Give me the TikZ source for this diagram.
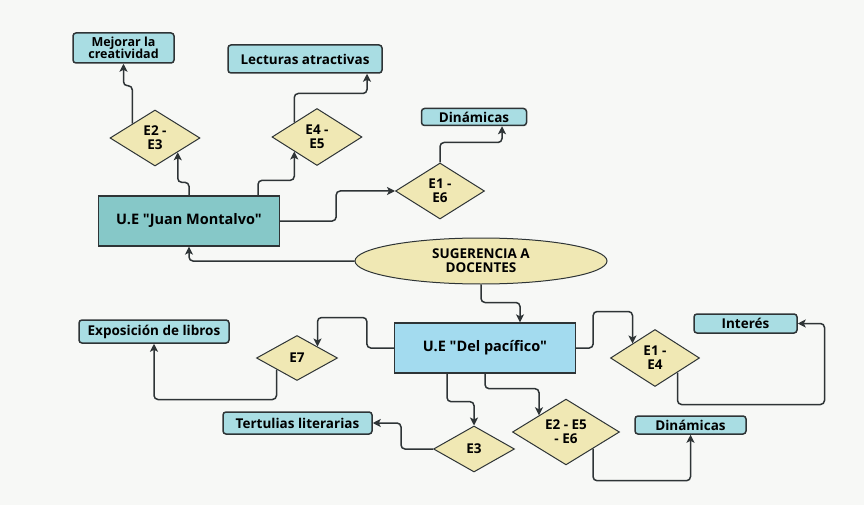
\documentclass[tikz,border=0pt]{standalone}
\usepackage{fontspec}
\setmainfont{Open Sans}[Ligatures=TeXOff]
\usetikzlibrary{shapes.geometric,arrows.meta}
\definecolor{hoja}{HTML}{A9DDE3}
\definecolor{juan}{HTML}{86C8C8}
\definecolor{pacif}{HTML}{A3DBEF}
\definecolor{crema}{HTML}{F0E8B4}
\definecolor{fondo}{HTML}{F7F8F6}
\definecolor{linea}{HTML}{2E3436}

\begin{document}
\begin{tikzpicture}[x=1pt,y=-1pt,font=\bfseries\fontsize{13.5}{14}\selectfont,
  hoja/.style={draw=linea,fill=hoja,rounded corners=3pt,line width=1.5pt,inner sep=0pt,align=center},
  escuela/.style={draw=linea,line width=1.3pt,inner sep=0pt,minimum width=181pt,minimum height=50pt,font=\bfseries\fontsize{14.5}{15}\selectfont},
  rombo/.style={diamond,draw=linea,fill=crema,line width=1pt,inner sep=0pt,align=center},
  flecha/.style={draw=linea,line width=1.5pt,rounded corners=4pt,-{Stealth[length=8pt,width=8pt,inset=2pt]}}]
\fill[fondo] (0,0) rectangle (864,505);
\useasboundingbox (0,0) rectangle (864,505);

\node[ellipse,draw=linea,fill=crema,line width=1pt,minimum width=252pt,minimum height=46pt,align=center,inner sep=0pt] (sug) at (481,261) {SUGERENCIA A\\DOCENTES};
\node[escuela,fill=juan] (jm) at (189,221) {U.E "Juan Montalvo"};
\node[escuela,fill=pacif] (dp) at (485,348) {U.E "Del pacífico"};

\node[rombo,minimum width=90pt,minimum height=56pt] (e23) at (155,138) {E2 -\\E3};
\node[rombo,minimum width=90pt,minimum height=57pt] (e45) at (317,137) {E4 -\\E5};
\node[rombo,minimum width=89pt,minimum height=56pt] (e16) at (440,191) {E1 -\\E6};
\node[rombo,minimum width=89pt,minimum height=57pt] (e14) at (655,358) {E1 -\\E4};
\node[rombo,minimum width=81pt,minimum height=46pt] (e3) at (474,449) {E3};
\node[rombo,minimum width=107pt,minimum height=56pt] (e256) at (566,432) {E2 - E5\\- E6};
\node[rombo,minimum width=81pt,minimum height=45pt] (e7) at (297,358) {E7};

\node[hoja,minimum width=101pt,minimum height=30pt,font=\bfseries\fontsize{12.5}{12.5}\selectfont] (mej) at (123.5,48) {Mejorar la\\creatividad};
\node[hoja,minimum width=154pt,minimum height=28pt] (lec) at (305,59) {Lecturas atractivas};
\node[hoja,minimum width=105pt,minimum height=17pt] (din1) at (474,117) {Dinámicas};
\node[hoja,minimum width=103pt,minimum height=19pt] (int) at (745.5,323.5) {Interés};
\node[hoja,minimum width=111pt,minimum height=18pt] (din2) at (690.5,425) {Dinámicas};
\node[hoja,minimum width=149pt,minimum height=22pt] (ter) at (297.5,423) {Tertulias literarias};
\node[hoja,minimum width=150pt,minimum height=23pt] (exp) at (154,331.5) {Exposición de libros};

\draw[flecha] (sug.west) -| (jm.south);
\draw[flecha] (jm.north) -- ++(0,-13) -| (e23.south east);
\draw[flecha] ([xshift=69pt]jm.north) -- ++(0,-15) -| (e45.south west);
\draw[flecha] (jm.east) -- ++(56,0) |- (e16.west);
\draw[flecha] (e23.north west) -- ++(0,-38) -| (mej.south);
\draw[flecha] (e45.north west) -- ++(0,-29) -| ([xshift=62pt]lec.south);
\draw[flecha] (e16.north) -- ++(0,-20) -| ([xshift=28pt]din1.south);

\draw[flecha] (sug.south) -- ++(0,18) -| ([xshift=35pt]dp.north);
\draw[flecha] (dp.east) -- ++(17,0) |- ([yshift=32pt]e14.north west) -- (e14.north west);
\draw[flecha] (e14.south east) -- ++(0,32) -- ++(147,0) |- (int.east);
\draw[flecha] ([xshift=-38pt]dp.south) -- ++(0,28) -| (e3.north);
\draw[flecha] (dp.south) -- ++(0,15) -| (e256.north west);
\draw[flecha] (e256.south east) -- ++(0,32) -| (din2.south);
\draw[flecha] (e3.west) -- ++(-32,0) |- (ter.east);
\draw[flecha] (dp.west) -- ++(-27,0) |- ([yshift=29pt]e7.north east) -- (e7.north east);
\draw[flecha] (e7.south west) -- ++(0,30) -| (exp.south);
\end{tikzpicture}
\end{document}
